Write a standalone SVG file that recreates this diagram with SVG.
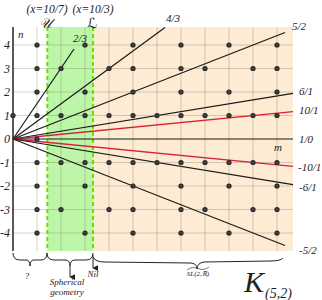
<svg xmlns="http://www.w3.org/2000/svg" width="322" height="300" viewBox="0 0 322 300">
<style>
.t{font-family:"Liberation Serif",serif;font-style:italic;fill:#222}
.lbl{font-size:11px}
.num{font-size:12px}
.sm{font-size:9px}
.grid line{stroke:#7a6a5a;stroke-opacity:.3;stroke-width:1}
.ray{stroke:#1a1a1a;stroke-width:1.2;fill:none}
.red{stroke:#d8203a;stroke-width:1.3;fill:none}
.dash{stroke:#66e000;stroke-width:2;stroke-dasharray:4,3}
.brace{stroke:#222;stroke-width:1;fill:none}
</style>
<defs>
<marker id="ah" viewBox="0 0 8 8" refX="4" refY="7" markerWidth="6" markerHeight="6" orient="auto-start-reverse" markerUnits="userSpaceOnUse">
<path d="M0,0 L8,0 L4,8 Z" fill="#222"/>
</marker>
<g id="dot"><circle r="2.6" fill="#222"/><path d="M-2.6,0 H2.6 M0,-2.6 V2.6" stroke="#666" stroke-width="0.5"/></g>
</defs>
<rect width="322" height="300" fill="#fff"/>
<g id="regions">
<rect x="47.3" y="27" width="45.7" height="224" fill="#bdf6a8"/>
<rect x="93" y="27" width="200" height="224" fill="#fdebd4"/>
</g>
<g class="grid">
<line x1="13" y1="45" x2="293" y2="45"/>
<line x1="13" y1="68.5" x2="293" y2="68.5"/>
<line x1="13" y1="92" x2="293" y2="92"/>
<line x1="13" y1="115.5" x2="293" y2="115.5"/>
<line x1="13" y1="162.5" x2="293" y2="162.5"/>
<line x1="13" y1="186" x2="293" y2="186"/>
<line x1="13" y1="209.5" x2="293" y2="209.5"/>
<line x1="13" y1="233" x2="293" y2="233"/>
<line x1="37" y1="27" x2="37" y2="251"/>
<line x1="61" y1="27" x2="61" y2="251"/>
<line x1="85" y1="27" x2="85" y2="251"/>
<line x1="109" y1="27" x2="109" y2="251"/>
<line x1="133" y1="27" x2="133" y2="251"/>
<line x1="157" y1="27" x2="157" y2="251"/>
<line x1="181" y1="27" x2="181" y2="251"/>
<line x1="205" y1="27" x2="205" y2="251"/>
<line x1="229" y1="27" x2="229" y2="251"/>
<line x1="253" y1="27" x2="253" y2="251"/>
<line x1="277" y1="27" x2="277" y2="251"/>
</g>
<g id="boundaries">
<line class="dash" x1="47.3" y1="27" x2="47.3" y2="251"/>
<line class="dash" x1="93" y1="27" x2="93" y2="251"/>
</g>
<g id="connectors">
<line x1="13" y1="27" x2="13" y2="251" stroke="#222" stroke-width="1.5"/>
<line class="ray" x1="13" y1="139" x2="74" y2="49"/>
<line class="ray" x1="13" y1="139" x2="165" y2="27.5"/>
<line class="ray" x1="13" y1="139" x2="285" y2="32.5"/>
<line class="ray" x1="13" y1="139" x2="293" y2="93.3"/>
<line class="red" x1="13" y1="139" x2="293" y2="111.6"/>
<line class="ray" x1="13" y1="139" x2="293" y2="139"/>
<line class="red" x1="13" y1="139" x2="293" y2="166.4"/>
<line class="ray" x1="13" y1="139" x2="293" y2="184.7"/>
<line class="ray" x1="13" y1="139" x2="285" y2="245.5"/>
</g>
<g id="dots">
<use href="#dot" x="37" y="45"/><use href="#dot" x="85" y="45"/><use href="#dot" x="133" y="45"/><use href="#dot" x="181" y="45"/><use href="#dot" x="229" y="45"/><use href="#dot" x="277" y="45"/>
<use href="#dot" x="37" y="68.5"/><use href="#dot" x="61" y="68.5"/><use href="#dot" x="109" y="68.5"/><use href="#dot" x="133" y="68.5"/><use href="#dot" x="181" y="68.5"/><use href="#dot" x="205" y="68.5"/><use href="#dot" x="253" y="68.5"/><use href="#dot" x="277" y="68.5"/>
<use href="#dot" x="37" y="92"/><use href="#dot" x="85" y="92"/><use href="#dot" x="133" y="92"/><use href="#dot" x="181" y="92"/><use href="#dot" x="229" y="92"/><use href="#dot" x="277" y="92"/>
<use href="#dot" x="13" y="115.5"/><use href="#dot" x="37" y="115.5"/><use href="#dot" x="61" y="115.5"/><use href="#dot" x="85" y="115.5"/><use href="#dot" x="109" y="115.5"/><use href="#dot" x="133" y="115.5"/><use href="#dot" x="157" y="115.5"/><use href="#dot" x="181" y="115.5"/><use href="#dot" x="205" y="115.5"/><use href="#dot" x="229" y="115.5"/><use href="#dot" x="253" y="115.5"/><use href="#dot" x="277" y="115.5"/>
<use href="#dot" x="37" y="139"/>
<use href="#dot" x="37" y="162.5"/><use href="#dot" x="61" y="162.5"/><use href="#dot" x="85" y="162.5"/><use href="#dot" x="109" y="162.5"/><use href="#dot" x="133" y="162.5"/><use href="#dot" x="157" y="162.5"/><use href="#dot" x="181" y="162.5"/><use href="#dot" x="205" y="162.5"/><use href="#dot" x="229" y="162.5"/><use href="#dot" x="253" y="162.5"/><use href="#dot" x="277" y="162.5"/>
<use href="#dot" x="37" y="186"/><use href="#dot" x="85" y="186"/><use href="#dot" x="133" y="186"/><use href="#dot" x="181" y="186"/><use href="#dot" x="229" y="186"/><use href="#dot" x="277" y="186"/>
<use href="#dot" x="37" y="209.5"/><use href="#dot" x="61" y="209.5"/><use href="#dot" x="109" y="209.5"/><use href="#dot" x="133" y="209.5"/><use href="#dot" x="181" y="209.5"/><use href="#dot" x="205" y="209.5"/><use href="#dot" x="253" y="209.5"/><use href="#dot" x="277" y="209.5"/>
<use href="#dot" x="37" y="233"/><use href="#dot" x="85" y="233"/><use href="#dot" x="133" y="233"/><use href="#dot" x="181" y="233"/><use href="#dot" x="229" y="233"/><use href="#dot" x="277" y="233"/>
</g>
<g id="axis-labels" class="t num" text-anchor="end">
<text x="10" y="49">4</text>
<text x="10" y="72.5">3</text>
<text x="10" y="96">2</text>
<text x="10" y="119.5">1</text>
<text x="10" y="143">0</text>
<text x="10" y="166.5">-1</text>
<text x="10" y="190">-2</text>
<text x="10" y="213.5">-3</text>
<text x="10" y="237">-4</text>
</g>
<g id="ray-labels" class="t lbl">
<text x="18" y="38">n</text>
<text x="274" y="151">m</text>
<text x="73" y="42">2/3</text>
<text x="166" y="22">4/3</text>
<text x="292" y="30">5/2</text>
<text x="299" y="95">6/1</text>
<text x="299" y="114">10/1</text>
<text x="299" y="143">1/0</text>
<text x="298" y="171">-10/1</text>
<text x="299" y="191">-6/1</text>
<text x="299" y="254">-5/2</text>
</g>
<g id="top-labels" class="t" text-anchor="middle">
<text x="47" y="13" font-size="11.5">(x=10/7)</text>
<text x="93" y="13" font-size="11.5">(x=10/3)</text>
<text x="45" y="28" font-size="14" style="font-family:'DejaVu Serif','DejaVu Sans',serif">𝒰</text>
<text x="92" y="28" font-size="14" style="font-family:'DejaVu Serif','DejaVu Sans',serif">ℒ</text>
</g>
<g id="braces">
<path class="brace" d="M13,253 Q13,260 20,260 L26,260 Q30,260 30,266 Q30,260 34,260 L41,260 Q47,260 47,253"/>
<path class="brace" d="M47,253 Q47,260 54,260 L65,260 Q70,260 70,266 Q70,260 75,260 L86,260 Q93,260 93,253"/>
<line class="brace" x1="70" y1="266" x2="70" y2="277" marker-end="url(#ah)"/>
<line class="brace" x1="93" y1="255" x2="93" y2="268" marker-end="url(#ah)"/>
<path class="brace" d="M93,257 Q95,262 105,262 L190,263 Q197,263 197,269 Q197,263 204,262 L270,261 Q281,261 283,258"/>
</g>
<g id="bottom-labels" class="t">
<text x="27" y="279" class="sm" text-anchor="middle">?</text>
<text x="67" y="285" class="sm" text-anchor="middle">Spherical</text>
<text x="67" y="295" class="sm" text-anchor="middle">geometry</text>
<text x="93" y="277" class="sm" text-anchor="middle">Nil</text>
<text x="198" y="276" font-size="7" text-anchor="middle">SL(2,ℝ)</text>
<path d="M187,270 Q192,266 198,268.5 Q204,271 209,267" stroke="#222" stroke-width="0.6" fill="none"/>
<text x="244" y="292" font-size="30">K</text>
<text x="265" y="298" font-size="14">(5,2)</text>
</g>
</svg>
